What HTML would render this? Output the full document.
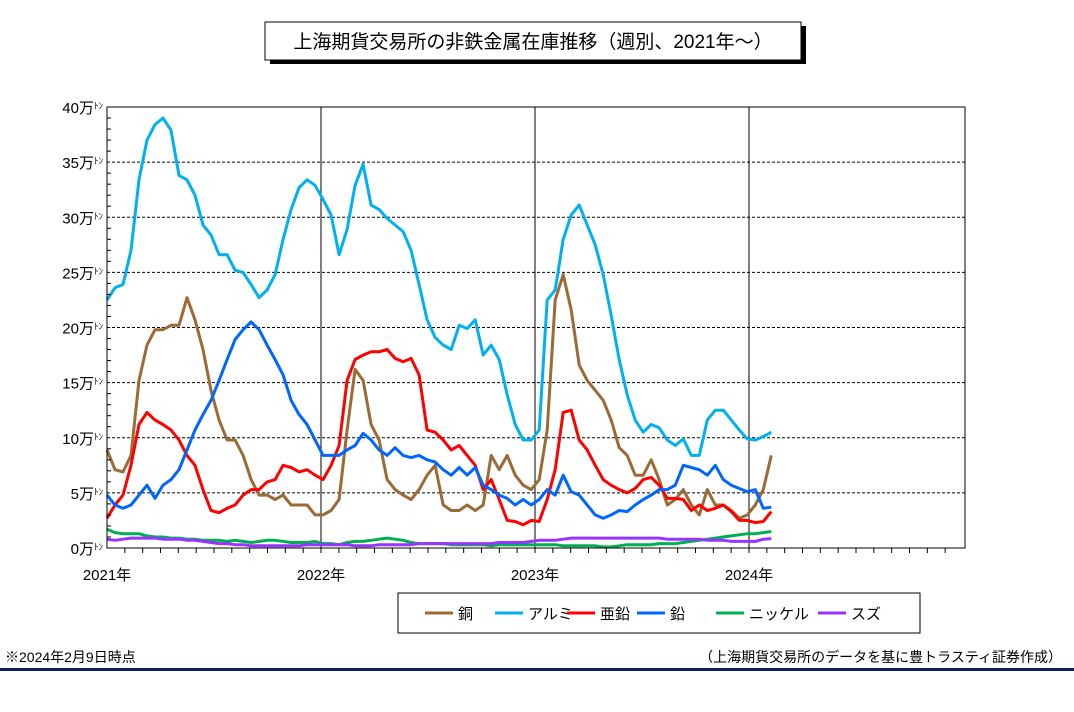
<!DOCTYPE html>
<html><head><meta charset="utf-8">
<style>
body{margin:0;background:#fff;width:1074px;height:707px;overflow:hidden;font-family:"Liberation Sans","Noto Sans CJK JP",sans-serif;}
</style></head>
<body>
<svg id="chart" width="1074" height="707" xmlns="http://www.w3.org/2000/svg" font-family="Liberation Sans, Noto Sans CJK JP, sans-serif">
<rect x="270" y="26" width="536" height="38" fill="#000"/>
<rect x="265" y="22" width="536" height="38" fill="#fff" stroke="#000" stroke-width="1"/>
<text x="533" y="48" font-size="19" text-anchor="middle">上海期貨交易所の非鉄金属在庫推移（週別、2021年～）</text>
<g id="grid"></g>
<g id="series"></g>
<g id="axes"></g>
<rect x="398" y="593" width="522" height="40" fill="#fff" stroke="#000"/>
<g id="legend"></g>
<text x="5" y="662" font-size="14">※2024年2月9日時点</text>
<text x="1062" y="662" font-size="14" text-anchor="end">（上海期貨交易所のデータを基に豊トラスティ証券作成）</text>
<rect x="0" y="668" width="1074" height="3" fill="#0d1f5c"/>
</svg>
<script>
const yTicks=[0,5,10,15,20,25,30,35,40];
const yearLabels=["2021年","2022年","2023年","2024年"];
const seriesNames=["銅","アルミ","亜鉛","鉛","ニッケル","スズ"];
const copper=[8.9,7.1,6.9,8.4,15.2,18.4,19.8,19.8,20.2,20.2,22.7,20.7,18,14.3,11.6,9.8,9.8,8.4,6.2,4.8,4.8,4.4,4.8,3.9,3.9,3.9,3,3,3.4,4.4,10.7,16.2,15.2,11.2,9.8,6.2,5.3,4.8,4.4,5.3,6.6,7.5,3.9,3.4,3.4,3.9,3.4,3.9,8.4,7.1,8.4,6.6,5.7,5.3,6.2,10.7,22.5,24.8,21.6,16.6,15.2,14.3,13.4,11.6,9.1,8.4,6.6,6.6,8,6.2,3.9,4.4,5.3,3.9,3,5.3,3.9,3.9,3.4,2.7,3,3.9,5.3,8.4];
const aluminum=[22.5,23.6,23.9,27,33.4,37,38.4,39,37.9,33.8,33.4,32,29.3,28.4,26.6,26.6,25.2,25,23.9,22.7,23.4,24.8,28,30.7,32.7,33.4,32.9,31.6,30.2,26.6,28.9,32.9,34.8,31.1,30.7,29.9,29.3,28.7,27,23.9,20.7,19.1,18.4,18,20.2,19.9,20.7,17.5,18.4,17.1,13.9,11.2,9.8,9.8,10.7,22.5,23.4,28,30.2,31.1,29.3,27.5,24.8,21.1,17.1,13.9,11.6,10.5,11.2,10.9,9.8,9.3,9.9,8.4,8.4,11.6,12.5,12.5,11.6,10.7,9.9,9.8,10.1,10.5];
const zinc=[2.7,3.9,4.8,7.5,11.2,12.3,11.6,11.2,10.7,9.8,8.4,7.5,5.3,3.4,3.2,3.6,3.9,4.8,5.3,5.3,6,6.2,7.5,7.3,6.9,7.1,6.6,6.2,7.5,9.3,15.2,17.1,17.5,17.8,17.8,18,17.2,16.9,17.2,15.7,10.7,10.5,9.8,8.9,9.3,8.4,7.5,5.3,6.2,4.4,2.5,2.4,2.1,2.5,2.4,4.4,7.1,12.3,12.5,9.8,8.9,7.5,6.2,5.7,5.3,5,5.4,6.2,6.4,5.7,4.5,4.5,4.4,3.4,3.9,3.4,3.6,3.9,3.3,2.5,2.5,2.3,2.4,3.3];
const lead=[4.8,3.9,3.6,3.9,4.8,5.7,4.5,5.7,6.2,7.1,8.9,10.7,12.1,13.4,15.2,17.1,18.9,19.8,20.5,19.8,18.4,17.1,15.7,13.4,12.1,11.2,9.8,8.4,8.4,8.4,8.9,9.3,10.4,9.8,8.9,8.4,9.1,8.4,8.2,8.4,8,7.8,7.1,6.6,7.3,6.6,7.3,5.7,5.3,4.8,4.5,3.9,4.4,3.9,4.4,5.3,4.8,6.6,5.1,4.8,3.9,3,2.7,3,3.4,3.3,3.9,4.4,4.8,5.3,5.3,5.7,7.5,7.3,7.1,6.6,7.5,6.2,5.7,5.4,5.1,5.3,3.6,3.7];
const nickel=[1.7,1.4,1.3,1.3,1.3,1.1,1.0,1.0,0.9,0.9,0.8,0.8,0.7,0.7,0.7,0.6,0.7,0.6,0.5,0.6,0.7,0.7,0.6,0.5,0.5,0.5,0.6,0.4,0.4,0.3,0.5,0.6,0.6,0.7,0.8,0.9,0.8,0.7,0.5,0.4,0.4,0.4,0.4,0.3,0.3,0.3,0.3,0.3,0.2,0.3,0.3,0.3,0.3,0.3,0.3,0.3,0.3,0.2,0.2,0.2,0.2,0.2,0.1,0.1,0.2,0.3,0.3,0.3,0.3,0.4,0.4,0.4,0.5,0.6,0.7,0.8,0.9,1.0,1.1,1.2,1.3,1.3,1.4,1.5];
const tin=[0.8,0.7,0.8,0.9,0.9,0.9,0.9,0.8,0.8,0.8,0.7,0.7,0.6,0.5,0.4,0.4,0.3,0.3,0.2,0.2,0.2,0.2,0.2,0.2,0.2,0.3,0.3,0.3,0.3,0.3,0.3,0.2,0.2,0.2,0.3,0.3,0.3,0.3,0.3,0.4,0.4,0.4,0.4,0.4,0.4,0.4,0.4,0.4,0.4,0.5,0.5,0.5,0.5,0.6,0.7,0.7,0.7,0.8,0.9,0.9,0.9,0.9,0.9,0.9,0.9,0.9,0.9,0.9,0.9,0.9,0.8,0.8,0.8,0.8,0.8,0.7,0.7,0.7,0.6,0.6,0.6,0.6,0.8,0.85];
const colors=["#9b6a35","#00b0f0","#ff0000","#0066ff","#00b050","#9933ff"];
const stepYears=0.0374;

const X0=107,X1=965,Y0=548,Y1=107,yearPx=214;
const NS="http://www.w3.org/2000/svg";
function xYear(t){return X0+t*yearPx;}
function xIdx(i){return xYear(i*stepYears);}
function y(v){return Y0-(v/40)*(Y0-Y1);}
function mk(tag,attrs,parent){const e=document.createElementNS(NS,tag);for(const k in attrs)e.setAttribute(k,attrs[k]);parent.appendChild(e);return e;}
const grid=document.getElementById('grid'),axes=document.getElementById('axes'),ser=document.getElementById('series'),leg=document.getElementById('legend');
mk('rect',{x:X0,y:Y1,width:X1-X0,height:Y0-Y1,fill:'#fff',stroke:'none'},grid);
yTicks.forEach(v=>{
  if(v>0&&v<40){const l=mk('line',{x1:X0,x2:X1,y1:y(v),y2:y(v),stroke:'#000','stroke-dasharray':'3,2','stroke-width':1},grid);
  
  }
  const t=mk('text',{x:103,y:y(v)+6,'font-size':15,'text-anchor':'end'},axes);
  
  
  t.innerHTML=v+'万<tspan font-size="9" dy="-4">ﾄﾝ</tspan>';
});
for(let v=1;v<40;v++){if(v%5)mk('line',{x1:X0,x2:X0+4,y1:y(v),y2:y(v),stroke:'#000'},axes);}
for(let m=1;m<48;m++){mk('line',{x1:xYear(m/12),x2:xYear(m/12),y1:Y0,y2:Y0+5,stroke:'#000'},axes);}
yearLabels.forEach((s,i)=>{
  if(i>0){const l=mk('line',{x1:xYear(i),x2:xYear(i),y1:Y1,y2:Y0,stroke:'#000'},grid);
  
  }
  const t=mk('text',{x:xYear(i),y:580,'font-size':15,'text-anchor':'middle'},axes);
  
  
  t.textContent=s;
});
mk('rect',{x:X0,y:Y1,width:X1-X0,height:Y0-Y1,fill:'none',stroke:'#000'},axes);
[copper,aluminum,zinc,lead,nickel,tin].forEach((arr,k)=>{
  const p=mk('polyline',{points:arr.map((v,i)=>xIdx(i).toFixed(1)+','+y(v).toFixed(1)).join(' '),fill:'none',stroke:colors[k],'stroke-width':3,'stroke-linejoin':'round'},ser);
  
  
});
const lx=[425,495,567,637,716,818];
seriesNames.forEach((n,k)=>{
  const g=mk('g',{},leg);
  
  
  mk('line',{x1:lx[k],x2:lx[k]+28,y1:613,y2:613,stroke:colors[k],'stroke-width':3},g);
  const t=mk('text',{x:lx[k]+33,y:619,'font-size':15},g);t.textContent=n;
});
</script>
</body></html>
